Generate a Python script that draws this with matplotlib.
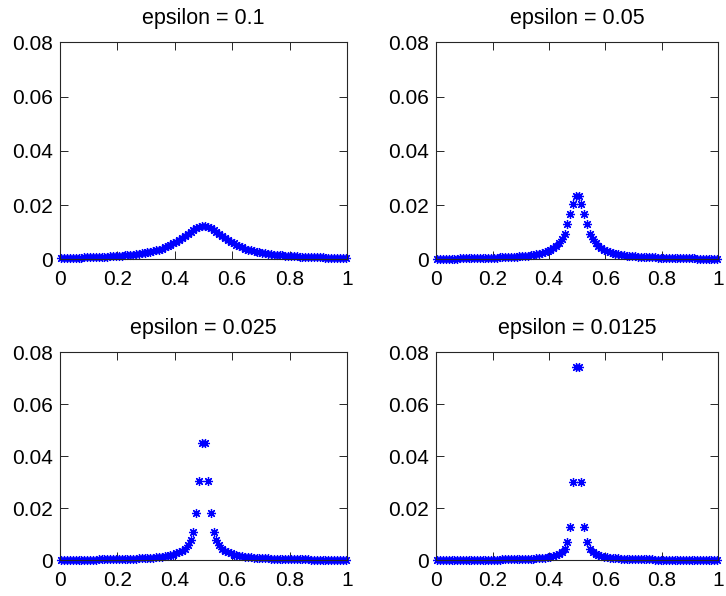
import numpy as np
import matplotlib
matplotlib.use("Agg")
import matplotlib.pyplot as plt

plt.rcParams['font.family'] = ['Liberation Sans', 'DejaVu Sans']

# sample points (cell centres of a 100-cell grid on [0, 1])
x = (np.arange(100) + 0.5) / 100

titles = ["epsilon = 0.1", "epsilon = 0.05", "epsilon = 0.025", "epsilon = 0.0125"]

# right half of each profile, from x=0.505 out to x=0.995 (profiles are symmetric)
eps_1 = [0.01227, 0.01203, 0.01158, 0.01096, 0.01023, 0.00944, 0.00865, 0.00787, 0.00714, 0.00647,
         0.00586, 0.00530, 0.00480, 0.00436, 0.00397, 0.00362, 0.00331, 0.00303, 0.00278, 0.00256,
         0.00237, 0.00219, 0.00203, 0.00189, 0.00176, 0.00164, 0.00153, 0.00144, 0.00135, 0.00127,
         0.00119, 0.00113, 0.00106, 0.00101, 0.00095, 0.00090, 0.00086, 0.00082, 0.00078, 0.00074,
         0.00071, 0.00068, 0.00065, 0.00062, 0.00059, 0.00057, 0.00054, 0.00052, 0.00050, 0.00048]

eps_2 = [0.0234, 0.0205, 0.0166, 0.0129, 0.0095, 0.0074, 0.0060, 0.0050, 0.0042, 0.0036,
         0.0031, 0.0027, 0.0024, 0.0021, 0.0019, 0.0017, 0.0015, 0.0014, 0.0013, 0.0012,
         0.0011, 0.0010, 0.00095, 0.0009, 0.00085, 0.0008, 0.00075, 0.0007, 0.00066, 0.00062,
         0.00058, 0.00055, 0.00052, 0.00049, 0.00046, 0.00044, 0.00042, 0.0004, 0.00038, 0.00036,
         0.00034, 0.00032, 0.0003, 0.00029, 0.00028, 0.00027, 0.00026, 0.00025, 0.00024, 0.00023]

eps_3 = [0.0450, 0.0305, 0.0181, 0.0110, 0.0076, 0.0057, 0.0045, 0.0037, 0.0031, 0.0026,
         0.0022, 0.0019, 0.0017, 0.0015, 0.0013, 0.0012, 0.0011, 0.0010, 0.00092, 0.00085,
         0.00078, 0.00072, 0.00067, 0.00062, 0.00058, 0.00054, 0.00051, 0.00048, 0.00045, 0.00042,
         0.0004, 0.00038, 0.00036, 0.00034, 0.00032, 0.00031, 0.0003, 0.00028, 0.00027, 0.00026,
         0.00025, 0.00024, 0.00023, 0.00022, 0.00021, 0.0002, 0.0002, 0.00019, 0.00018, 0.00018]

eps_4 = [0.0745, 0.0301, 0.0127, 0.0070, 0.0045, 0.0032, 0.0025, 0.0020, 0.0016, 0.0014,
         0.0012, 0.0010, 0.0009, 0.0008, 0.0007, 0.00065, 0.0006, 0.00055, 0.0005, 0.00046,
         0.00043, 0.0004, 0.00037, 0.00035, 0.00033, 0.00031, 0.00029, 0.00027, 0.00026, 0.00025,
         0.00024, 0.00023, 0.00022, 0.00021, 0.0002, 0.00019, 0.00018, 0.00018, 0.00017, 0.00016,
         0.00016, 0.00015, 0.00015, 0.00014, 0.00014, 0.00013, 0.00013, 0.00013, 0.00012, 0.00012]

x_ticks = [0, 0.2, 0.4, 0.6, 0.8, 1]
x_labels = ["0", "0.2", "0.4", "0.6", "0.8", "1"]
y_ticks = [0, 0.02, 0.04, 0.06, 0.08]
y_labels = ["0", "0.02", "0.04", "0.06", "0.08"]

# axes rectangles in figure fraction (left, bottom, width, height)
boxes = [
    [0.0826, 0.5649, 0.3953, 0.3641],
    [0.6006, 0.5649, 0.3890, 0.3641],
    [0.0826, 0.0600, 0.3953, 0.3490],
    [0.6006, 0.0600, 0.3890, 0.3490],
]

fig = plt.figure(figsize=(7.26, 5.96), dpi=100)

for box, title, half in zip(boxes, titles, [eps_1, eps_2, eps_3, eps_4]):
    ax = fig.add_axes(box)
    y = half[::-1] + half
    # MATLAB-style asterisk marker
    ax.plot(x, y, linestyle="none", marker=(8, 2, 0), markersize=6.5,
            color="#0000ff", markeredgewidth=0.9, clip_on=False)
    ax.set_xlim(0, 1)
    ax.set_ylim(0, 0.08)
    ax.set_xticks(x_ticks)
    ax.set_xticklabels(x_labels)
    ax.set_yticks(y_ticks)
    ax.set_yticklabels(y_labels)
    ax.tick_params(direction="in", top=True, right=True, length=6,
                   width=0.7, color="#262626", labelsize=15)
    ax.tick_params(axis="x", pad=8)
    ax.tick_params(axis="y", pad=5)
    for s in ax.spines.values():
        s.set_linewidth(0.8)
        s.set_color("#262626")
    ax.set_title(title, fontsize=15.5, pad=13)

fig.savefig("out.png", dpi=100)
